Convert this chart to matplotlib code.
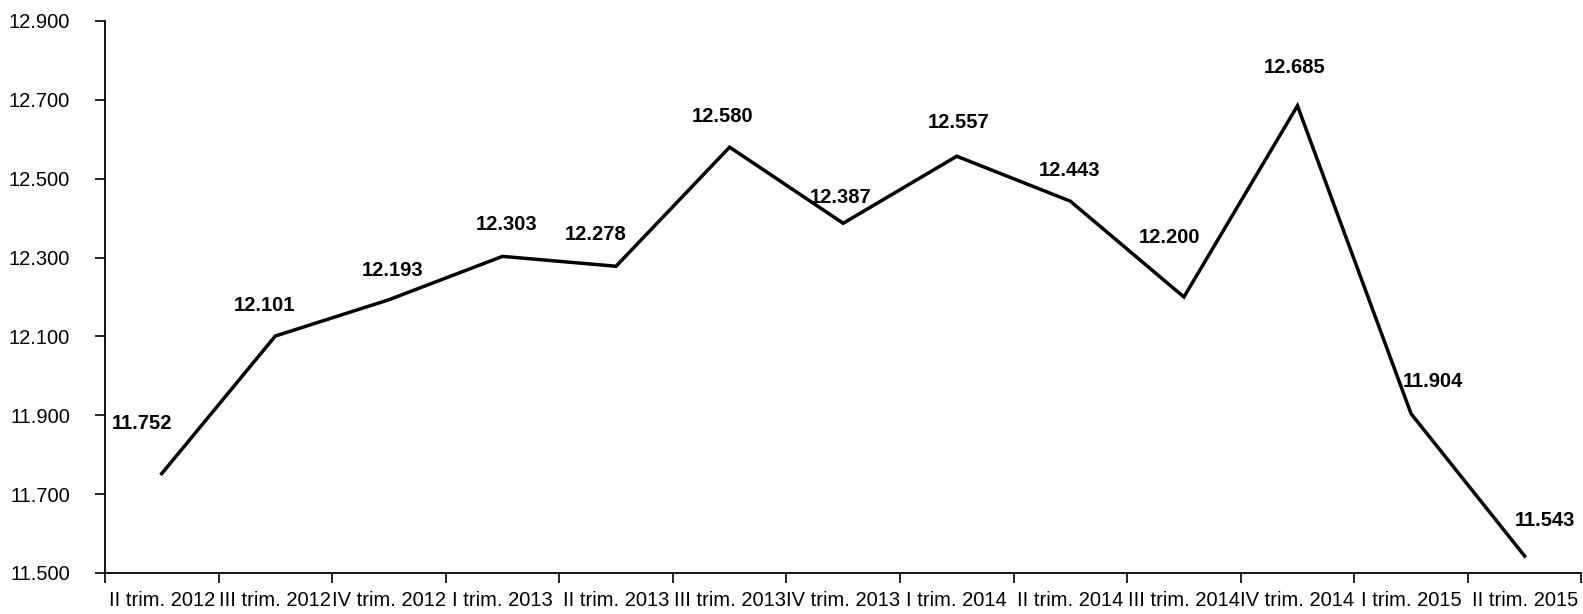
import numpy as np
import matplotlib.pyplot as plt
from matplotlib.ticker import FuncFormatter

quarters = ['II trim. 2012', 'III trim. 2012', 'IV trim. 2012', 'I trim. 2013',
            'II trim. 2013', 'III trim. 2013', 'IV trim. 2013', 'I trim. 2014',
            'II trim. 2014', 'III trim. 2014', 'IV trim. 2014', 'I trim. 2015',
            'II trim. 2015']
values = [11752, 12101, 12193, 12303, 12278, 12580, 12387, 12557,
          12443, 12200, 12685, 11904, 11543]
y_ticks = [11500, 11700, 11900, 12100, 12300, 12500, 12700, 12900]

# label offsets in pixels (placement only)
label_offsets = [(-20, 50), (-11, 31), (4, 29), (4, 32), (-20, 32), (-7, 31),
                 (-3, 26), (2, 34), (-1, 31), (-14, 59), (-3, 38), (22, 32), (20, 36)]


def dot_thousands(v, pos=None):
    return f'{int(v):,}'.replace(',', '.')


plt.rcParams['font.family'] = ['Liberation Sans', 'DejaVu Sans']

fig = plt.figure(figsize=(15.83, 6.14), dpi=100)
ax = fig.add_axes([0.0663, 0.0668, 0.9327, 0.899])

x = np.arange(len(quarters))
ax.plot(x, values, color='black', linewidth=2.5, solid_joinstyle='miter')

for xi, v, (dx, dy) in zip(x, values, label_offsets):
    ax.annotate(dot_thousands(v), (xi, v), xytext=(dx, dy), textcoords='offset pixels',
                ha='center', va='center', fontsize=14.5, fontweight='bold')

ax.set_xlim(-0.5, len(quarters) - 0.5)
ax.set_ylim(y_ticks[0], y_ticks[-1])
ax.set_yticks(y_ticks)
ax.yaxis.set_major_formatter(FuncFormatter(dot_thousands))
ax.set_xticks(x)
ax.set_xticklabels(quarters)
ax.set_xticks(np.arange(len(quarters) + 1) - 0.5, minor=True)
ax.tick_params(axis='x', which='major', length=0, pad=13, labelsize=14.5)
ax.tick_params(axis='x', which='minor', length=7, width=1.2, direction='out')
ax.tick_params(axis='y', length=7, width=1.2, pad=18, labelsize=14.5)

for s in ['top', 'right']:
    ax.spines[s].set_visible(False)
for s in ['left', 'bottom']:
    ax.spines[s].set_linewidth(1.3)

fig.savefig('out.png', dpi=100)
